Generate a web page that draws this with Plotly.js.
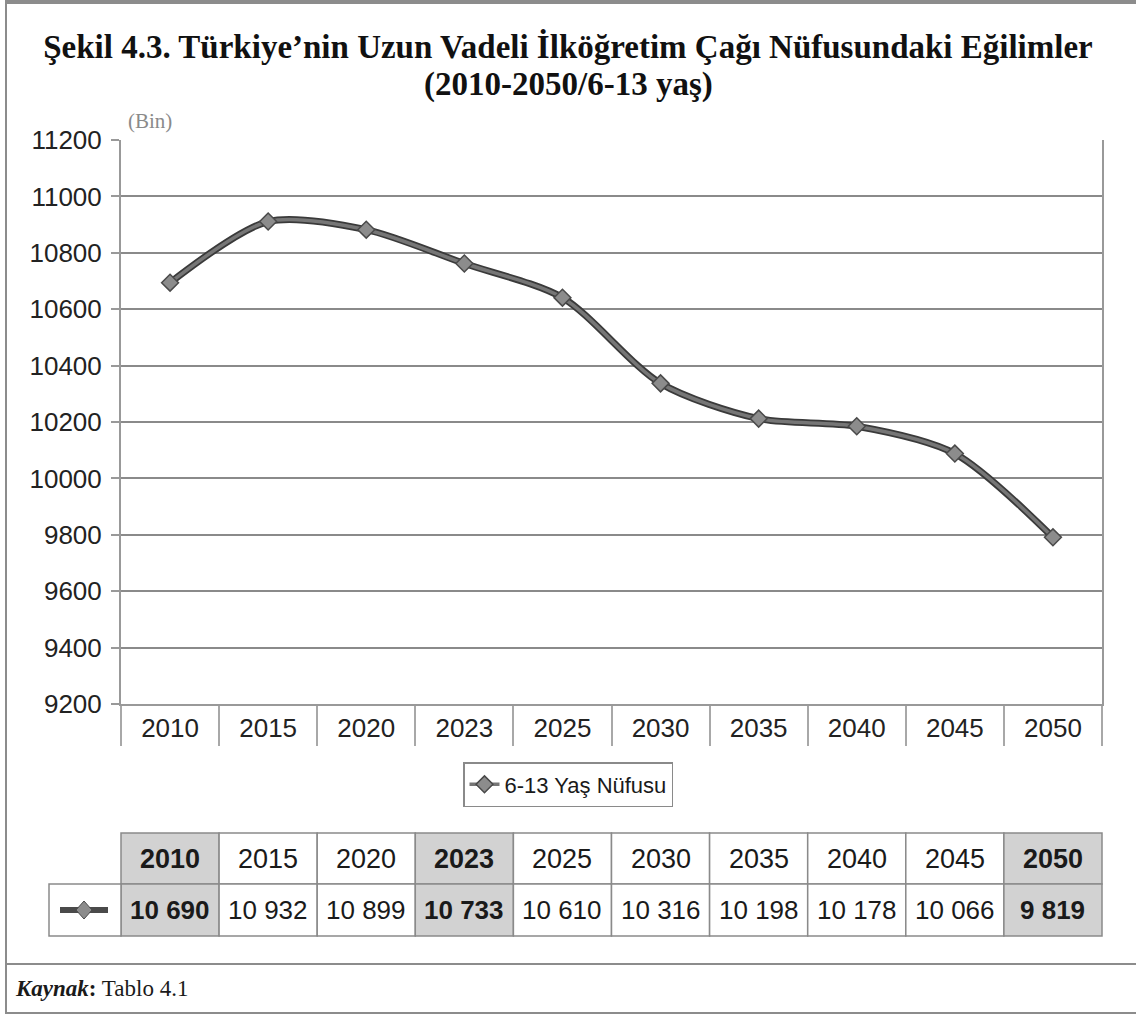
<!DOCTYPE html>
<html>
<head>
<meta charset="utf-8">
<script src="https://cdn.plot.ly/plotly-3.0.1.min.js"></script>
<style>html,body{margin:0;padding:0;background:#fff;}#chart{width:1136px;height:1016px;}</style>
</head>
<body>
<div id="chart"></div>
<script>
// ---- data ----
const years = ['2010','2015','2020','2023','2025','2030','2035','2040','2045','2050'];
// values as plotted on the curve
const chartValues = [10694, 10911, 10882, 10762, 10641, 10337, 10212, 10185, 10088, 9791];
// values printed in the data table under the chart
const tableValues = [10690, 10932, 10899, 10733, 10610, 10316, 10198, 10178, 10066, 9819];
const highlightedYears = ['2010','2023','2050'];
const seriesName = '6-13 Yaş Nüfusu';
const yTicks = [9200, 9400, 9600, 9800, 10000, 10200, 10400, 10600, 10800, 11000, 11200];
const titleLine1 = 'Şekil 4.3. Türkiye’nin Uzun Vadeli İlköğretim Çağı Nüfusundaki Eğilimler';
const titleLine2 = '(2010-2050/6-13 yaş)';

// ---- geometry helpers (pixel -> paper) ----
const W = 1136, H = 1016;
const M = {l: 121, r: 34, t: 140, b: 312};
const plotW = W - M.l - M.r, plotH = H - M.t - M.b;
const px = x => (x - M.l) / plotW;
const py = y => (H - M.b - y) / plotH;
const nCat = years.length;
const catCenter = i => (i + 0.5) / nCat;   // x range is [-0.5, n-0.5] over the full domain

const sans = "'Liberation Sans', Arial, sans-serif";
const serif = "'Liberation Serif', 'Times New Roman', serif";
const fmt = v => String(v).replace(/\B(?=(\d{3})+(?!\d))/g, ' ');

const traces = [
  {
    x: years, y: chartValues, type: 'scatter', mode: 'lines',
    line: {color: '#3a3a3a', width: 7, shape: 'spline', smoothing: 0.8},
    showlegend: false, hoverinfo: 'skip'
  },
  {
    x: years, y: chartValues, type: 'scatter', mode: 'lines+markers', name: seriesName,
    line: {color: '#767676', width: 3.5, shape: 'spline', smoothing: 0.8},
    marker: {symbol: 'diamond', size: 13, color: '#8c8c8c', line: {color: '#4a4a4a', width: 1.5}}
  }
];

const shapes = [];
const annotations = [];
const gridC = '#8a8a8a';

// table rows
const hTop = py(833), hMid = py(884), hBot = py(936);
years.forEach((yr, i) => {
  const hl = highlightedYears.includes(yr);
  [[hTop, hMid], [hMid, hBot]].forEach(([a, b]) => {
    shapes.push({type: 'rect', xref: 'paper', yref: 'paper', x0: i / nCat, x1: (i + 1) / nCat, y0: b, y1: a,
      fillcolor: hl ? '#d2d2d2' : '#ffffff', line: {color: gridC, width: 1.5}, layer: 'below'});
  });
  annotations.push({xref: 'paper', yref: 'paper', x: catCenter(i), y: (hTop + hMid) / 2, text: hl ? '<b>' + yr + '</b>' : yr,
    showarrow: false, font: {family: sans, size: 27, color: '#1a1a1a'}, xanchor: 'center', yanchor: 'middle'});
  annotations.push({xref: 'paper', yref: 'paper', x: catCenter(i), y: (hMid + hBot) / 2,
    text: hl ? '<b>' + fmt(tableValues[i]) + '</b>' : fmt(tableValues[i]),
    showarrow: false, font: {family: sans, size: 26, color: '#1a1a1a'}, xanchor: 'center', yanchor: 'middle'});
});
// icon cell
shapes.push({type: 'rect', xref: 'paper', yref: 'paper', x0: px(49), x1: 0, y0: hBot, y1: hMid,
  fillcolor: '#ffffff', line: {color: gridC, width: 1.5}, layer: 'below'});
const iy = (hMid + hBot) / 2;
shapes.push({type: 'line', xref: 'paper', yref: 'paper', x0: px(60), x1: px(108), y0: iy, y1: iy,
  line: {color: '#4a4a4a', width: 6}});
const dx = 8 / plotW, dy = 9 / plotH, cx = px(84);
shapes.push({type: 'path', xref: 'paper', yref: 'paper',
  path: `M ${cx - dx} ${iy} L ${cx} ${iy + dy} L ${cx + dx} ${iy} L ${cx} ${iy - dy} Z`,
  fillcolor: '#8c8c8c', line: {color: '#4a4a4a', width: 1}});

// outer frame
const frameC = '#8c8c8c';
shapes.push({type: 'line', xref: 'paper', yref: 'paper', x0: px(6), x1: px(6), y0: py(2), y1: py(1013), line: {color: frameC, width: 2}});
shapes.push({type: 'line', xref: 'paper', yref: 'paper', x0: px(5), x1: px(1136), y0: py(2), y1: py(2), line: {color: frameC, width: 4}});
shapes.push({type: 'line', xref: 'paper', yref: 'paper', x0: px(5), x1: px(1136), y0: py(964), y1: py(964), line: {color: frameC, width: 2}});
shapes.push({type: 'line', xref: 'paper', yref: 'paper', x0: px(5), x1: px(1136), y0: py(1013), y1: py(1013), line: {color: frameC, width: 2}});

// title second line
annotations.push({xref: 'paper', yref: 'paper', x: px(568), y: py(84), text: '<b>' + titleLine2 + '</b>', showarrow: false,
  font: {family: serif, size: 33, color: '#111111'}, xanchor: 'center', yanchor: 'middle'});
// unit label
annotations.push({xref: 'paper', yref: 'paper', x: px(150), y: py(121), text: '(Bin)', showarrow: false,
  font: {family: serif, size: 21, color: '#8a8a8a'}, xanchor: 'center', yanchor: 'middle'});
// source
annotations.push({xref: 'paper', yref: 'paper', x: px(13), y: py(988),
  text: '<b><i>Kaynak</i>:</b> Tablo 4.1', showarrow: false,
  font: {family: serif, size: 23, color: '#1a1a1a'}, xanchor: 'left', yanchor: 'middle'});

const layout = {
  width: W, height: H,
  margin: M,
  paper_bgcolor: '#ffffff', plot_bgcolor: '#ffffff',
  title: {
    text: '<b>' + titleLine1 + '</b>',
    font: {family: serif, size: 33, color: '#111111'},
    x: 0.5, xref: 'container', xanchor: 'center',
    y: 1 - 46 / H, yref: 'container', yanchor: 'middle'
  },
  xaxis: {
    type: 'category', range: [-0.5, 9.5], fixedrange: true,
    showline: true, linecolor: '#999999', linewidth: 2,
    ticks: 'outside', tickson: 'boundaries', ticklen: 40, tickwidth: 2, tickcolor: '#a8a8a8',
    tickfont: {family: sans, size: 26, color: '#222222'},
    showgrid: false, zeroline: false
  },
  yaxis: {
    range: [9200, 11200], tickvals: yTicks, ticktext: yTicks.map(String), fixedrange: true,
    showline: true, linecolor: '#999999', linewidth: 2, mirror: true,
    ticks: 'outside', ticklen: 8, tickwidth: 2, tickcolor: '#999999',
    ticklabelstandoff: 4,
    tickfont: {family: sans, size: 26, color: '#222222'},
    showgrid: true, gridcolor: gridC, gridwidth: 2, zeroline: false
  },
  showlegend: true,
  legend: {
    orientation: 'h', x: px(568), xanchor: 'center', y: py(762), yanchor: 'top',
    bordercolor: '#8a8a8a', borderwidth: 1.5, bgcolor: '#ffffff',
    font: {family: sans, size: 22, color: '#1a1a1a'}, itemwidth: 30
  },
  shapes: shapes,
  annotations: annotations
};

Plotly.newPlot('chart', traces, layout, {displayModeBar: false, staticPlot: true});
</script>
</body>
</html>
